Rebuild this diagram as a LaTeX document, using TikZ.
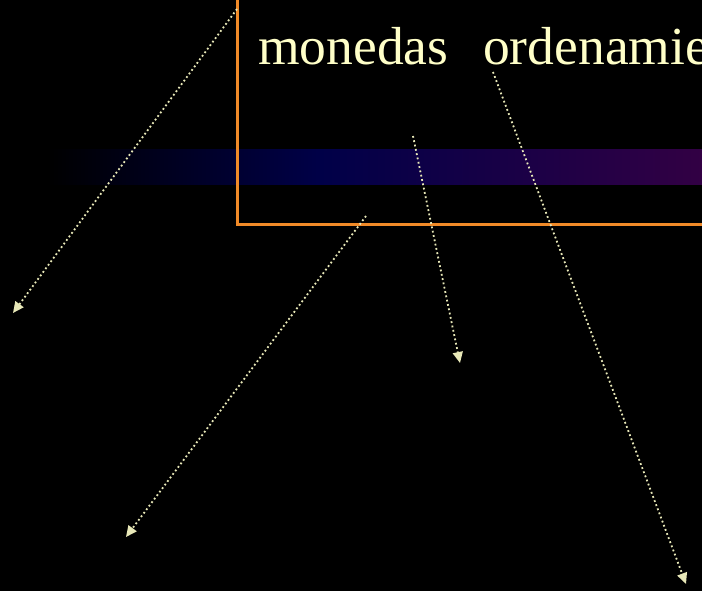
\documentclass[tikz,border=0pt]{standalone}
\usepackage{fontspec}
\setmainfont{Liberation Serif}
\usetikzlibrary{arrows.meta}
\definecolor{txt}{HTML}{FFFFC8}
\definecolor{arr}{HTML}{E8E8B8}
\definecolor{frame}{HTML}{F08A28}
\definecolor{bandA}{HTML}{000048}
\definecolor{bandB}{HTML}{320044}
\tikzset{
  pointer/.style={arr, line width=1.8pt, dash pattern=on 1.8pt off 2.6pt,
    -{Triangle[length=11pt,width=10pt]}},
  label/.style={txt, anchor=base west, inner sep=0pt, font=\fontsize{53.5}{60}\selectfont}
}
\begin{document}
\begin{tikzpicture}[x=1pt,y=-1pt]
\useasboundingbox (0,0) rectangle (702,591);
\clip (0,0) rectangle (702,591);
\fill[black] (0,0) rectangle (702,591);
% gradient band
\shade[left color=black, right color=bandA] (48,150) rectangle (321,185);
\shade[left color=bandA, right color=bandB] (320,150) rectangle (702,185);
% orange frame
\draw[frame, line width=3pt] (237,-10) -- (237,224) -- (720,224);
% texts
\node[label] (t1) at (258,65) {monedas};
\node[label] (t2) at (483,65) {ordenamie};
% arrow anchors
\coordinate (s1) at (237,9);   \coordinate (e1) at (13,313);
\coordinate (s2) at (366,216); \coordinate (e2) at (126,537);
\coordinate (s3) at (413,136); \coordinate (e3) at (460,363);
\coordinate (s4) at (493,72);  \coordinate (e4) at (686,584);
\draw[pointer] (s1) -- (e1);
\draw[pointer] (s2) -- (e2);
\draw[pointer] (s3) -- (e3);
\draw[pointer] (s4) -- (e4);
\end{tikzpicture}
\end{document}
